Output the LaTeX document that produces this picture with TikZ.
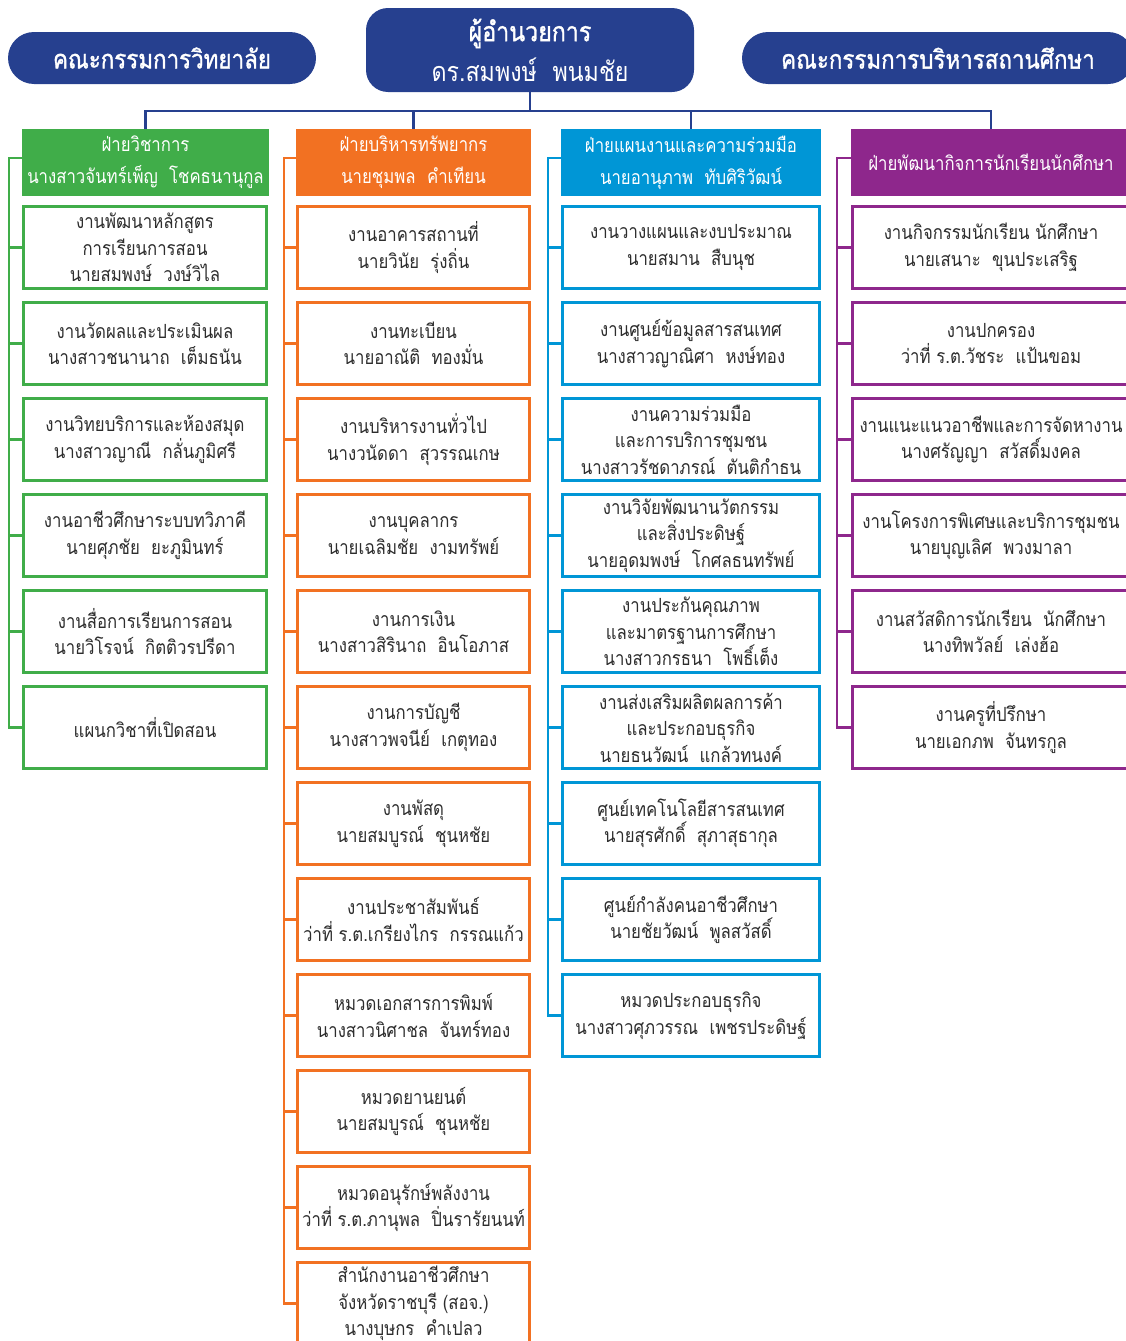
\documentclass[tikz,border=0pt]{standalone}
\usepackage{fontspec}
\newfontfamily\thaifont[Script=Thai, FakeStretch=0.86]{Loma}
\newfontfamily\thaibold[Script=Thai, FakeStretch=0.86, FakeBold=1.2]{Loma}
\definecolor{navy}{RGB}{38,64,143}
\definecolor{grn}{RGB}{64,173,73}
\definecolor{org}{RGB}{242,113,34}
\definecolor{blu}{RGB}{0,150,214}
\definecolor{pur}{RGB}{142,39,140}
\definecolor{ink}{RGB}{45,45,45}
\tikzset{
  unitbox/.style={draw=#1, line width=3pt, fill=white, align=center,
    minimum height=82pt, inner sep=2pt, text=ink,
    font=\thaifont\fontsize{19.5}{26.5}\selectfont},
  headbox/.style={fill=#1, align=center, minimum height=67pt, inner sep=2pt,
    text=white, font=\thaifont\fontsize{19.5}{32}\selectfont},
  pill/.style={fill=navy, rounded corners=26pt, minimum height=52pt,
    text=white, font=\thaibold\fontsize{26}{28}\selectfont},
  link/.style={draw=#1, line width=2.5pt}
}
\begin{document}
\begin{tikzpicture}[x=1pt,y=-1pt]
\useasboundingbox (0,0) rectangle (1126,1341);
\clip (0,0) rectangle (1126,1341);

% Drawing top level
\node [pill, minimum width=308pt] (board) at (162,58) {คณะกรรมการวิทยาลัย};
\node [pill, minimum width=392pt] (council) at (938,58) {คณะกรรมการบริหารสถานศึกษา};
\node [fill=navy, rounded corners=22pt, minimum width=328pt, minimum height=84pt,
  align=center, text=white, font=\thaifont\fontsize{27}{40}\selectfont]
  (dir) at (530,50) {{\thaibold ผู้อำนวยการ}\\ดร.สมพงษ์~~พนมชัย};

% Drawing division headers
\node [headbox=grn, minimum width=247pt] (hdrG) at (145.5,162.5)
  {ฝ่ายวิชาการ\\นางสาวจันทร์เพ็ญ~~โชคธนานุกูล};
\node [headbox=org, minimum width=235pt] (hdrO) at (413.5,162.5)
  {ฝ่ายบริหารทรัพยากร\\นายชุมพล~~คำเทียน};
\node [headbox=blu, minimum width=260pt] (hdrB) at (691,162.5)
  {ฝ่ายแผนงานและความร่วมมือ\\นายอานุภาพ~~ทับศิริวัฒน์};
\node [headbox=pur, minimum width=280pt] (hdrP) at (991,162.5)
  {ฝ่ายพัฒนากิจการนักเรียนนักศึกษา};

% Drawing bus line
\coordinate (bus) at (530,111);
\draw [link=navy] (dir.south) -- (bus);
\draw [link=navy] (hdrG.north) |- (bus) -| (hdrP.north);
\draw [link=navy] (hdrO.north) -- (hdrO.north |- bus);
\draw [link=navy] (hdrB.north) -- (hdrB.north |- bus);

% Drawing green column
\node [unitbox=grn, minimum width=243pt] (g1) at (145,247.5)
  {งานพัฒนาหลักสูตร\\การเรียนการสอน\\นายสมพงษ์~~วงษ์วิไล};
\node [unitbox=grn, minimum width=243pt] (g2) at (145,343.5)
  {งานวัดผลและประเมินผล\\นางสาวชนานาถ~~เต็มธนัน};
\node [unitbox=grn, minimum width=243pt] (g3) at (145,439.5)
  {งานวิทยบริการและห้องสมุด\\นางสาวญาณี~~กลั่นภูมิศรี};
\node [unitbox=grn, minimum width=243pt] (g4) at (145,535.5)
  {งานอาชีวศึกษาระบบทวิภาคี\\นายศุภชัย~~ยะภูมินทร์};
\node [unitbox=grn, minimum width=243pt] (g5) at (145,631.5)
  {งานสื่อการเรียนการสอน\\นายวิโรจน์~~กิตติวรปรีดา};
\node [unitbox=grn, minimum width=243pt] (g6) at (145,727.5)
  {แผนกวิชาที่เปิดสอน};

% Drawing orange column
\node [unitbox=org, minimum width=232pt] (o1) at (413.5,247.5)
  {งานอาคารสถานที่\\นายวินัย~~รุ่งถิ่น};
\node [unitbox=org, minimum width=232pt] (o2) at (413.5,343.5)
  {งานทะเบียน\\นายอาณัติ~~ทองมั่น};
\node [unitbox=org, minimum width=232pt] (o3) at (413.5,439.5)
  {งานบริหารงานทั่วไป\\นางวนัดดา~~สุวรรณเกษ};
\node [unitbox=org, minimum width=232pt] (o4) at (413.5,535.5)
  {งานบุคลากร\\นายเฉลิมชัย~~งามทรัพย์};
\node [unitbox=org, minimum width=232pt] (o5) at (413.5,631.5)
  {งานการเงิน\\นางสาวสิรินาถ~~อินโอภาส};
\node [unitbox=org, minimum width=232pt] (o6) at (413.5,727.5)
  {งานการบัญชี\\นางสาวพจนีย์~~เกตุทอง};
\node [unitbox=org, minimum width=232pt] (o7) at (413.5,823.5)
  {งานพัสดุ\\นายสมบูรณ์~~ชุนหชัย};
\node [unitbox=org, minimum width=232pt] (o8) at (413.5,919.5)
  {งานประชาสัมพันธ์\\ว่าที่ ร.ต.เกรียงไกร~~กรรณแก้ว};
\node [unitbox=org, minimum width=232pt] (o9) at (413.5,1015.5)
  {หมวดเอกสารการพิมพ์\\นางสาวนิศาชล~~จันทร์ทอง};
\node [unitbox=org, minimum width=232pt] (o10) at (413.5,1111.5)
  {หมวดยานยนต์\\นายสมบูรณ์~~ชุนหชัย};
\node [unitbox=org, minimum width=232pt] (o11) at (413.5,1207.5)
  {หมวดอนุรักษ์พลังงาน\\ว่าที่ ร.ต.ภานุพล~~ปิ่นรารัยนนท์};
\node [unitbox=org, minimum width=232pt] (o12) at (413.5,1303.5)
  {สำนักงานอาชีวศึกษา\\จังหวัดราชบุรี (สอจ.)\\นางบุษกร~~คำเปลว};

% Drawing blue column
\node [unitbox=blu, minimum width=257pt] (b1) at (691,247.5)
  {งานวางแผนและงบประมาณ\\นายสมาน~~สืบนุช};
\node [unitbox=blu, minimum width=257pt] (b2) at (691,343.5)
  {งานศูนย์ข้อมูลสารสนเทศ\\นางสาวญาณิศา~~หงษ์ทอง};
\node [unitbox=blu, minimum width=257pt] (b3) at (691,439.5)
  {งานความร่วมมือ\\และการบริการชุมชน\\นางสาวรัชดาภรณ์~~ตันติกำธน};
\node [unitbox=blu, minimum width=257pt] (b4) at (691,535.5)
  {งานวิจัยพัฒนานวัตกรรม\\และสิ่งประดิษฐ์\\นายอุดมพงษ์~~โกศลธนทรัพย์};
\node [unitbox=blu, minimum width=257pt] (b5) at (691,631.5)
  {งานประกันคุณภาพ\\และมาตรฐานการศึกษา\\นางสาวกรธนา~~โพธิ์เต็ง};
\node [unitbox=blu, minimum width=257pt] (b6) at (691,727.5)
  {งานส่งเสริมผลิตผลการค้า\\และประกอบธุรกิจ\\นายธนวัฒน์~~แกล้วทนงค์};
\node [unitbox=blu, minimum width=257pt] (b7) at (691,823.5)
  {ศูนย์เทคโนโลยีสารสนเทศ\\นายสุรศักดิ์~~สุภาสุธากุล};
\node [unitbox=blu, minimum width=257pt] (b8) at (691,919.5)
  {ศูนย์กำลังคนอาชีวศึกษา\\นายชัยวัฒน์~~พูลสวัสดิ์};
\node [unitbox=blu, minimum width=257pt] (b9) at (691,1015.5)
  {หมวดประกอบธุรกิจ\\นางสาวศุภวรรณ~~เพชรประดิษฐ์};

% Drawing purple column
\node [unitbox=pur, minimum width=277pt] (p1) at (991,247.5)
  {งานกิจกรรมนักเรียน นักศึกษา\\นายเสนาะ~~ขุนประเสริฐ};
\node [unitbox=pur, minimum width=277pt] (p2) at (991,343.5)
  {งานปกครอง\\ว่าที่ ร.ต.วัชระ~~แป้นขอม};
\node [unitbox=pur, minimum width=277pt] (p3) at (991,439.5)
  {งานแนะแนวอาชีพและการจัดหางาน\\นางศรัญญา~~สวัสดิ์มงคล};
\node [unitbox=pur, minimum width=277pt] (p4) at (991,535.5)
  {งานโครงการพิเศษและบริการชุมชน\\นายบุญเลิศ~~พวงมาลา};
\node [unitbox=pur, minimum width=277pt] (p5) at (991,631.5)
  {งานสวัสดิการนักเรียน~~นักศึกษา\\นางทิพวัลย์~~เล่งฮ้อ};
\node [unitbox=pur, minimum width=277pt] (p6) at (991,727.5)
  {งานครูที่ปรึกษา\\นายเอกภพ~~จันทรกูล};

% Drawing rails
\coordinate (railG) at (9,158);
\coordinate (railO) at (284,158);
\coordinate (railB) at (548,158);
\coordinate (railP) at (837,158);
\draw [link=grn] (hdrG.west |- railG) -- (railG) |- (g6.west);
\draw [link=org] (hdrO.west |- railO) -- (railO) |- (o12.west);
\draw [link=blu] (hdrB.west |- railB) -- (railB) |- (b9.west);
\draw [link=pur] (hdrP.west |- railP) -- (railP) |- (p6.west);

% Drawing ticks
\draw [link=grn] (g1.west) -- (g1.west -| railG);
\draw [link=grn] (g2.west) -- (g2.west -| railG);
\draw [link=grn] (g3.west) -- (g3.west -| railG);
\draw [link=grn] (g4.west) -- (g4.west -| railG);
\draw [link=grn] (g5.west) -- (g5.west -| railG);
\draw [link=org] (o1.west) -- (o1.west -| railO);
\draw [link=org] (o2.west) -- (o2.west -| railO);
\draw [link=org] (o3.west) -- (o3.west -| railO);
\draw [link=org] (o4.west) -- (o4.west -| railO);
\draw [link=org] (o5.west) -- (o5.west -| railO);
\draw [link=org] (o6.west) -- (o6.west -| railO);
\draw [link=org] (o7.west) -- (o7.west -| railO);
\draw [link=org] (o8.west) -- (o8.west -| railO);
\draw [link=org] (o9.west) -- (o9.west -| railO);
\draw [link=org] (o10.west) -- (o10.west -| railO);
\draw [link=org] (o11.west) -- (o11.west -| railO);
\draw [link=blu] (b1.west) -- (b1.west -| railB);
\draw [link=blu] (b2.west) -- (b2.west -| railB);
\draw [link=blu] (b3.west) -- (b3.west -| railB);
\draw [link=blu] (b4.west) -- (b4.west -| railB);
\draw [link=blu] (b5.west) -- (b5.west -| railB);
\draw [link=blu] (b6.west) -- (b6.west -| railB);
\draw [link=blu] (b7.west) -- (b7.west -| railB);
\draw [link=blu] (b8.west) -- (b8.west -| railB);
\draw [link=pur] (p1.west) -- (p1.west -| railP);
\draw [link=pur] (p2.west) -- (p2.west -| railP);
\draw [link=pur] (p3.west) -- (p3.west -| railP);
\draw [link=pur] (p4.west) -- (p4.west -| railP);
\draw [link=pur] (p5.west) -- (p5.west -| railP);
\end{tikzpicture}
\end{document}
